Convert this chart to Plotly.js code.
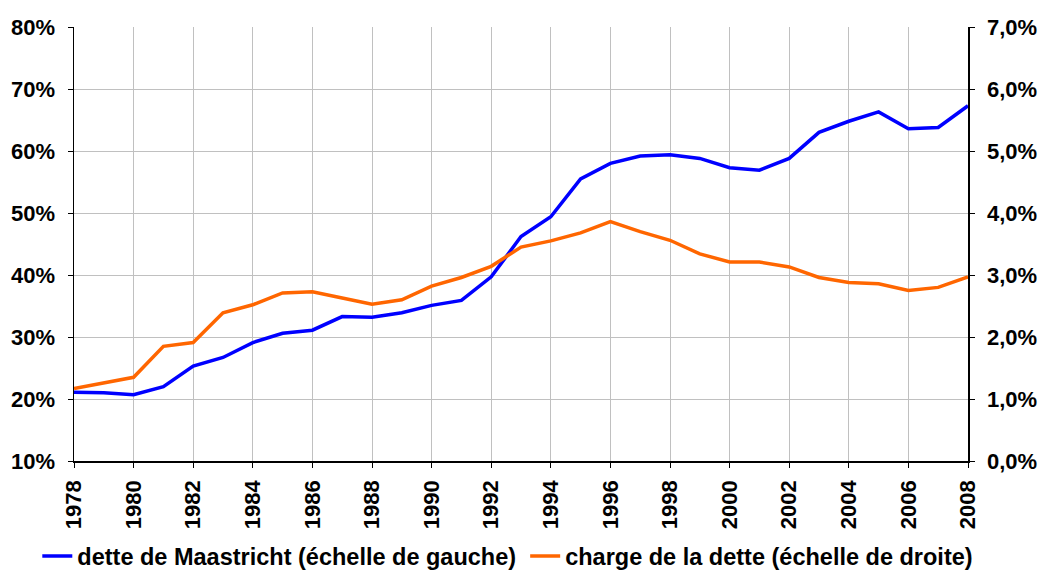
<!DOCTYPE html>
<html><head><meta charset="utf-8">
<script src="https://cdn.plot.ly/plotly-3.0.1.min.js"></script>
<style>body{margin:0;background:#fff}#c{width:1042px;height:570px}</style>
</head><body><div id="c"></div>
<script>
const years = [1978,1979,1980,1981,1982,1983,1984,1985,1986,1987,1988,1989,1990,1991,1992,1993,1994,1995,1996,1997,1998,1999,2000,2001,2002,2003,2004,2005,2006,2007,2008];
const detteMaastricht = [21.1,21.0,20.7,22.0,25.3,26.7,29.1,30.6,31.1,33.3,33.2,33.9,35.1,35.9,39.7,46.2,49.4,55.5,58.0,59.2,59.4,58.8,57.3,56.9,58.8,63.0,64.8,66.3,63.6,63.8,67.3];
const chargeDette = [1.17,1.26,1.35,1.85,1.91,2.39,2.52,2.71,2.73,2.63,2.53,2.60,2.82,2.96,3.14,3.45,3.55,3.68,3.86,3.70,3.56,3.34,3.21,3.21,3.13,2.96,2.88,2.86,2.75,2.80,2.97];
const leftTicks = [10,20,30,40,50,60,70,80];
const rightTicks = [0,1,2,3,4,5,6,7];
const xTicks = [1978,1980,1982,1984,1986,1988,1990,1992,1994,1996,1998,2000,2002,2004,2006,2008];

const fam = 'Arial, "Liberation Sans", sans-serif';
const tf = {family:fam, size:22, color:'#000', weight:700};
const lf = {family:fam, size:23.5, color:'#000', weight:700};
const traces = [
  {x:years, y:detteMaastricht, type:'scatter', mode:'lines', name:'dette de Maastricht (échelle de gauche)',
   line:{color:'#0000FF', width:3.5}, yaxis:'y', legend:'legend'},
  {x:years, y:chargeDette, type:'scatter', mode:'lines', name:'charge de la dette (échelle de droite)',
   line:{color:'#FF6600', width:3.5}, yaxis:'y2', legend:'legend2'}
];
const layout = {
  width:1042, height:570,
  margin:{l:74, r:74, t:27, b:109},
  paper_bgcolor:'#fff', plot_bgcolor:'#fff',
  showlegend:true,
  legend:{orientation:'h', xref:'container', yref:'container', x:0.0358, xanchor:'left', y:0.024, yanchor:'middle',
    font:lf, itemwidth:30},
  legend2:{orientation:'h', xref:'container', yref:'container', x:0.504, xanchor:'left', y:0.024, yanchor:'middle',
    font:lf, itemwidth:30},
  xaxis:{range:[1978,2008], tickvals:xTicks, ticktext:xTicks.map(String), tickangle:-90, automargin:false,
    showgrid:true, gridcolor:'#c0c0c0', gridwidth:1, showline:true, linecolor:'#000', linewidth:1.5,
    ticks:'outside', ticklen:5, tickcolor:'#000', tickfont:tf, zeroline:false, ticklabelstandoff:4},
  yaxis:{range:[10,80], tickvals:leftTicks, ticktext:leftTicks.map(v=>v+'%'), automargin:false,
    showgrid:true, gridcolor:'#c0c0c0', gridwidth:1, showline:true, linecolor:'#000', linewidth:1.5,
    ticks:'outside', ticklen:5, tickcolor:'#000', tickfont:tf, zeroline:false, ticklabelstandoff:8},
  yaxis2:{range:[0,7], overlaying:'y', side:'right', tickvals:rightTicks, automargin:false,
    ticktext:rightTicks.map(v=>v.toFixed(1).replace('.',',')+'%'),
    showgrid:false, showline:true, linecolor:'#000', linewidth:1.5,
    ticks:'outside', ticklen:5, tickcolor:'#000', tickfont:tf, zeroline:false, ticklabelstandoff:8}
};
Plotly.newPlot('c', traces, layout, {displayModeBar:false, staticPlot:true});
</script>
</body></html>
